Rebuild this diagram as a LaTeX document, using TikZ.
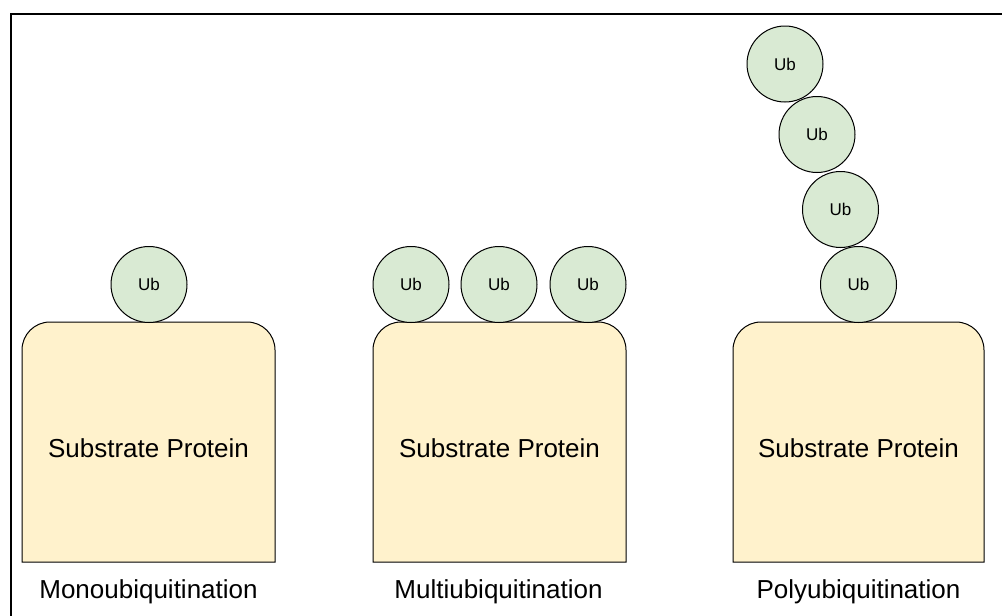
\documentclass[tikz,border=0pt]{standalone}
\usepackage{fontspec}
\setmainfont{Liberation Sans}
\definecolor{ubgreen}{HTML}{D9EAD3}
\definecolor{protyellow}{HTML}{FFF2CC}
\begin{document}
\begin{tikzpicture}[x=1pt,y=-1pt,
  ub/.style={circle, draw=black, fill=ubgreen, line width=1pt, minimum size=76pt, inner sep=0pt, font=\fontsize{17}{20}\selectfont},
  protein/.style={draw=black, fill=protyellow, line width=1pt},
  ptext/.style={anchor=base, inner sep=0pt, font=\fontsize{26}{30}\selectfont},
  frame/.style={draw=black, line width=2pt}
]
\useasboundingbox (0,0) rectangle (1002,616);
\coordinate (fbl) at (11,616);
\coordinate (ftl) at (11,14);
\coordinate (ftr) at (1002,14);
\draw[frame] (fbl) -- (ftl) -- (ftr);

% substrate proteins
\draw[protein] (22,562) -- (22,350) .. controls (22,334.5) and (34.5,322) .. (50,322) -- (247,322) .. controls (262.5,322) and (275,334.5) .. (275,350) -- (275,562) -- cycle;
\draw[protein] (373,562) -- (373,350) .. controls (373,334.5) and (385.5,322) .. (401,322) -- (598,322) .. controls (613.5,322) and (626,334.5) .. (626,350) -- (626,562) -- cycle;
\draw[protein] (733,562) -- (733,350) .. controls (733,334.5) and (745.5,322) .. (761,322) -- (956,322) .. controls (971.5,322) and (984,334.5) .. (984,350) -- (984,562) -- cycle;

\node[ptext] (s1) at (148.5,457.5) {Substrate Protein};
\node[ptext] (s2) at (499.5,457.5) {Substrate Protein};
\node[ptext] (s3) at (858.5,457.5) {Substrate Protein};

% ubiquitins
\node[ub] (m1) at (149,284.5) {Ub};

\node[ub] (a1) at (411,284.5) {Ub};
\node[ub] (a2) at (499,284.5) {Ub};
\node[ub] (a3) at (588,284.5) {Ub};

\node[ub] (p4) at (785,64) {Ub};
\node[ub] (p3) at (817,134.5) {Ub};
\node[ub] (p2) at (840.5,209.5) {Ub};
\node[ub] (p1) at (858.5,284.5) {Ub};

% labels
\node[ptext] (l1) at (148.5,598.5) {Monoubiquitination};
\node[ptext] (l2) at (498.5,598.5) {Multiubiquitination};
\node[ptext] (l3) at (858.5,598.5) {Polyubiquitination};
\end{tikzpicture}
\end{document}
